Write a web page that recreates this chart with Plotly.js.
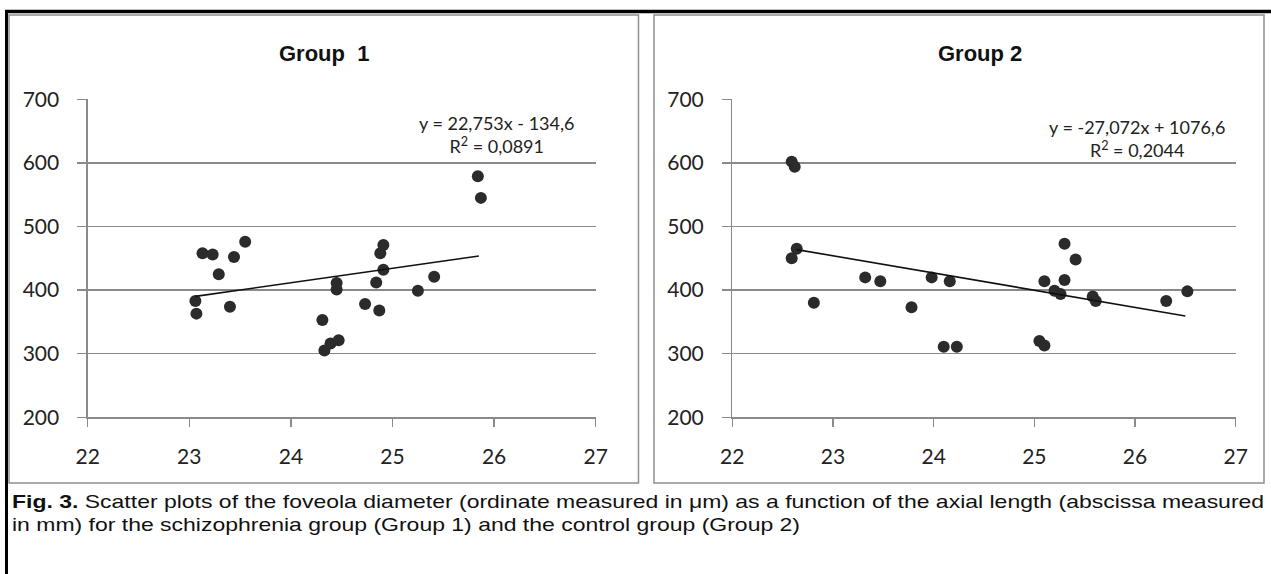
<!DOCTYPE html>
<html><head><meta charset="utf-8">
<script src="https://cdn.plot.ly/plotly-3.0.1.min.js"></script>
<style>html,body{margin:0;padding:0;background:#fff;}#chart{width:1271px;height:574px;}</style>
</head><body><div id="chart"></div>
<script>
// ---- data ----
const group1X = [23.06, 23.07, 23.13, 23.23, 23.29, 23.40, 23.44, 23.55, 24.31, 24.33, 24.39, 24.47, 24.45, 24.45, 24.73, 24.84, 24.87, 24.88, 24.91, 24.91, 25.25, 25.41, 25.84, 25.87];
const group1Y = [383, 363, 458, 456, 425, 374, 452, 476, 353, 305, 316, 321, 411, 401, 378, 412, 368, 458, 471, 432, 399, 421, 579, 545];
const group2X = [22.59, 22.62, 22.64, 22.59, 22.81, 23.32, 23.47, 23.78, 23.98, 24.16, 24.10, 24.23, 25.05, 25.10, 25.10, 25.20, 25.26, 25.30, 25.30, 25.41, 25.58, 25.61, 26.31, 26.52];
const group2Y = [602, 594, 465, 450, 380, 420, 414, 373, 420, 414, 311, 311, 320, 313, 414, 399, 394, 473, 416, 448, 390, 383, 383, 398];
const trend1X = [23.06, 25.85];
const trend1Y = [390.1, 453.6];
const trend2X = [22.64, 26.50];
const trend2Y = [463.7, 359.2];
const xTicks = [22, 23, 24, 25, 26, 27];
const yTicks = [200, 300, 400, 500, 600, 700];
const panelTitles = ['Group\u00a0 1', 'Group 2'];
const equationText = ['y = 22,753x - 134,6<br>R<sup>2</sup> = 0,0891', 'y = -27,072x + 1076,6<br>R<sup>2</sup> = 0,2044'];
const captionLines = [
  '<b>Fig. 3.</b> Scatter plots of the foveola diameter (ordinate measured in μm) as a function of the axial length (abscissa measured',
  'in mm) for the schizophrenia group (Group 1) and the control group (Group 2)'
];

// ---- layout helpers (pixels -> paper) ----
const W = 1271, H = 574;
const px = v => v / W;
const py = v => 1 - v / H;
const grey = '#8a8a8a';
const dark = '#2b2b2b';

function xAxis(d0, d1, anchor) {
  return {domain: [px(d0), px(d1)], anchor: anchor, range: [22, 27], tickvals: xTicks,
    ticks: 'outside', ticklen: 8, tickwidth: 1.3, tickcolor: grey,
    showline: true, linecolor: grey, linewidth: 1.3, showgrid: false, zeroline: false,
    tickfont: {family: 'Lato', size: 21, color: '#222'}, ticklabelstandoff: 12, fixedrange: true};
}
function yAxis(anchor) {
  return {domain: [py(417.3), py(99.3)], anchor: anchor, range: [200, 700], tickvals: yTicks,
    ticks: 'outside', ticklen: 9, tickwidth: 1.3, tickcolor: grey,
    showline: true, linecolor: grey, linewidth: 1.3, showgrid: true, gridcolor: grey, gridwidth: 1.3,
    zeroline: false, tickfont: {family: 'Lato', size: 21, color: '#222'}, ticklabelstandoff: 14, fixedrange: true};
}

const marker = {color: dark, size: 12};
const data = [
  {x: group1X, y: group1Y, type: 'scatter', mode: 'markers', marker: marker, xaxis: 'x', yaxis: 'y', cliponaxis: false},
  {x: trend1X, y: trend1Y, type: 'scatter', mode: 'lines', line: {color: '#111', width: 1.6}, xaxis: 'x', yaxis: 'y'},
  {x: group2X, y: group2Y, type: 'scatter', mode: 'markers', marker: marker, xaxis: 'x2', yaxis: 'y2', cliponaxis: false},
  {x: trend2X, y: trend2Y, type: 'scatter', mode: 'lines', line: {color: '#111', width: 1.6}, xaxis: 'x2', yaxis: 'y2'}
];

const titleFont = {family: 'Liberation Sans, Arial', size: 22, color: '#111', weight: 'bold'};
const eqFont = {family: 'Lato', size: 18, color: '#222'};
const capFont = {family: 'Liberation Sans, Arial', size: 19, color: '#111'};

const layout = {
  width: W, height: H, margin: {l: 0, r: 0, t: 0, b: 0},
  paper_bgcolor: '#ffffff', plot_bgcolor: '#ffffff', showlegend: false,
  xaxis: xAxis(87.7, 595.7, 'y'), yaxis: yAxis('x'),
  xaxis2: xAxis(732.3, 1235.7, 'y2'), yaxis2: yAxis('x2'),
  shapes: [
    {type: 'rect', xref: 'paper', yref: 'paper', x0: px(9), x1: px(638.5), y0: py(483), y1: py(15), line: {color: '#8f8f8f', width: 1.5}},
    {type: 'rect', xref: 'paper', yref: 'paper', x0: px(654), x1: px(1264), y0: py(483), y1: py(15), line: {color: '#8f8f8f', width: 1.5}},
    {type: 'line', xref: 'paper', yref: 'paper', x0: px(5), x1: 1, y0: py(11.5), y1: py(11.5), line: {color: '#000', width: 3.5}},
    {type: 'line', xref: 'paper', yref: 'paper', x0: px(6.5), x1: px(6.5), y0: py(10), y1: 0, line: {color: '#000', width: 3}}
  ],
  annotations: [
    {xref: 'paper', yref: 'paper', x: px(324), y: py(53), text: panelTitles[0], showarrow: false,
      xanchor: 'center', yanchor: 'middle', font: titleFont},
    {xref: 'paper', yref: 'paper', x: px(980), y: py(53), text: panelTitles[1], showarrow: false,
      xanchor: 'center', yanchor: 'middle', font: titleFont},
    {xref: 'paper', yref: 'paper', x: px(496.7), y: py(135), text: equationText[0], showarrow: false,
      xanchor: 'center', yanchor: 'middle', align: 'center', font: eqFont},
    {xref: 'paper', yref: 'paper', x: px(1137), y: py(138.3), text: equationText[1], showarrow: false,
      xanchor: 'center', yanchor: 'middle', align: 'center', font: eqFont},
    {xref: 'paper', yref: 'paper', x: px(10), y: py(501), text: captionLines[0], showarrow: false,
      xanchor: 'left', yanchor: 'middle', align: 'left', font: capFont},
    {xref: 'paper', yref: 'paper', x: px(10), y: py(524), text: captionLines[1], showarrow: false,
      xanchor: 'left', yanchor: 'middle', align: 'left', font: capFont}
  ]
};

Plotly.newPlot('chart', data, layout, {displayModeBar: false, staticPlot: true}).then(function (gd) {
  // the caption in the reference is set in a wide face: widen it horizontally
  [4, 5].forEach(function (i) {
    const t = gd.querySelector('.annotation[data-index="' + i + '"] text');
    if (t) {
      t.style.transformBox = 'fill-box';
      t.style.transformOrigin = '0% 50%';
      t.style.transform = 'scaleX(1.21)';
    }
  });
});
</script>
</body></html>
